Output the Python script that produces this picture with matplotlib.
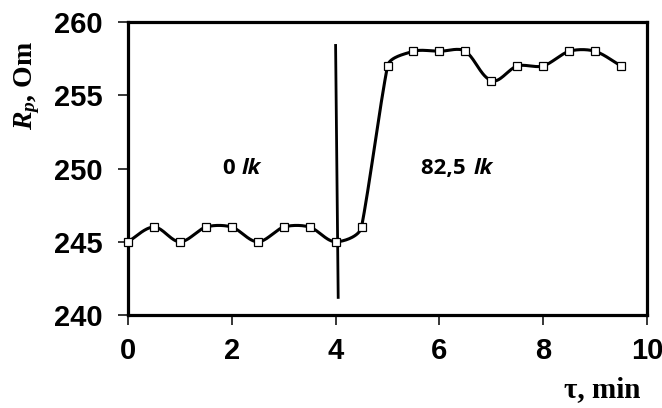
import numpy as np
import matplotlib
matplotlib.use("Agg")
import matplotlib.pyplot as plt

plt.rcParams["mathtext.fontset"] = "custom"
plt.rcParams["mathtext.it"] = "Liberation Serif:italic:bold"
plt.rcParams["mathtext.rm"] = "Liberation Serif:bold"
plt.rcParams["mathtext.bf"] = "Liberation Serif:bold"

# measured points
t_min = [0, 0.5, 1, 1.5, 2, 2.5, 3, 3.5, 4, 4.5,
         5, 5.5, 6, 6.5, 7, 7.5, 8, 8.5, 9, 9.5]
r_om = [245, 246, 245, 246, 246, 245, 246, 246, 245, 246,
        257, 258, 258, 258, 256, 257, 257, 258, 258, 257]

switch_t = [4.0, 4.05]
switch_r = [258.4, 241.2]
labels = ["0", "82,5"]
label_pos = [(2.2, 250.0), (6.35, 250.0)]

X_PX, Y_PX = 51.9, 14.65   # px per data unit


def smooth(x, y, n=30):
    # Bezier smoothing in pixel space; tangent leans toward the longer chord
    P = np.column_stack([np.asarray(x, float) * X_PX, np.asarray(y, float) * Y_PX])
    P = np.vstack([2 * P[0] - P[1], P, 2 * P[-1] - P[-2]])
    V = np.diff(P, axis=0)
    d = np.hypot(V[:, 0], V[:, 1])
    T = V[:-1] * d[:-1, None] + V[1:] * d[1:, None]
    T = T / np.hypot(T[:, 0], T[:, 1])[:, None]   # tangent at original points
    out = []
    t = np.linspace(0, 1, n, endpoint=False)[:, None]
    for j in range(len(T) - 1):
        p1, p2 = P[j + 1], P[j + 2]
        arm = d[j + 1] * 0.3
        c1 = p1 + T[j] * arm
        c2 = p2 - T[j + 1] * arm
        out.append((1 - t) ** 3 * p1 + 3 * (1 - t) ** 2 * t * c1
                   + 3 * (1 - t) * t ** 2 * c2 + t ** 3 * p2)
    out.append(P[-2][None, :])
    out = np.vstack(out)
    return out[:, 0] / X_PX, out[:, 1] / Y_PX


fig = plt.figure(figsize=(6.62, 4.08), dpi=100)
ax = fig.add_axes([128 / 662, 1 - 315 / 408, 519 / 662, 293 / 408])

sx, sy = smooth(t_min, r_om)
ax.plot(sx, sy, color="black", lw=2.2, zorder=3)
ax.plot(t_min, r_om, ls="none", marker="s", ms=6, mfc="white",
        mec="black", mew=0.9, zorder=4, clip_on=False)
ax.plot(switch_t, switch_r, color="black", lw=2.0, zorder=2)

fig.canvas.draw()
renderer = fig.canvas.get_renderer()
for txt, (px, py) in zip(labels, label_pos):
    a = ax.text(px, py, txt + " ", ha="left", va="center", fontsize=16,
                fontweight="bold", family="Open Sans")
    b = ax.text(px, py, "lk", ha="left", va="center", fontsize=16,
                fontweight="bold", style="italic", family="Open Sans")
    wa = a.get_window_extent(renderer).width
    wb = b.get_window_extent(renderer).width
    x0 = ax.transData.transform((px, py))[0] - (wa + wb) / 2
    a.set_x(ax.transData.inverted().transform((x0, 0))[0])
    b.set_x(ax.transData.inverted().transform((x0 + wa, 0))[0])

ax.set_xlim(0, 10)
ax.set_ylim(240, 260)
ax.set_xticks([0, 2, 4, 6, 8, 10])
ax.set_yticks([240, 245, 250, 255, 260])
for s in ax.spines.values():
    s.set_linewidth(2.3)
ax.tick_params(direction="out", length=7, width=1.1)
ax.tick_params(axis="x", pad=9)
ax.tick_params(axis="y", pad=11.5)
for lab in ax.get_xticklabels() + ax.get_yticklabels():
    lab.set_family("Liberation Sans")
    lab.set_fontweight("bold")
    lab.set_fontsize(21)

fig.text(12 / 662, 1 - 85 / 408, r"$R_p$, Om", rotation=90,
         ha="left", va="center", fontsize=20, fontweight="bold",
         family="Liberation Serif")
fig.text(641 / 662, 1 - 390 / 408, "τ, min", ha="right", va="center",
         fontsize=21, fontweight="bold", family="Liberation Serif")

fig.savefig("out.png", dpi=100)
